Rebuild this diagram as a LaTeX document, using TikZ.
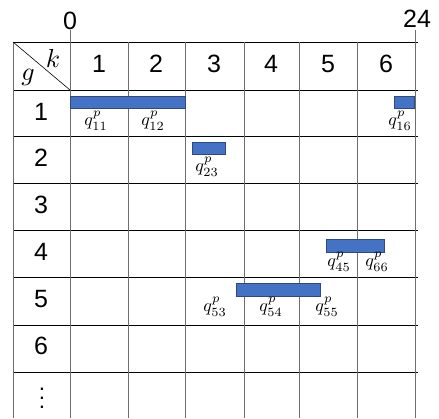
\documentclass[tikz,border=0pt]{standalone}
\usepackage[no-math]{fontspec}
\setmainfont{Liberation Sans}
\usetikzlibrary{positioning}
\definecolor{barblue}{HTML}{4472C4}
\definecolor{baredge}{HTML}{2F4A7A}
\definecolor{gridgrey}{HTML}{6E6E6E}

\begin{document}
\begin{tikzpicture}[
  x=1pt, y=-1pt,
  hdr/.style={inner sep=0pt, font=\fontsize{25}{28}\selectfont},
  axl/.style={inner sep=0pt, font=\fontsize{25}{28}\selectfont},
  qlbl/.style={inner sep=0pt},
  bar/.style={draw=baredge, fill=barblue, line width=0.8pt},
  hline/.style={black, line width=0.9pt},
  vline/.style={gridgrey, line width=0.9pt},
]
\def\q#1{\scalebox{1.8}{$q^{p}_{#1}$}}
\def\hv#1{\scalebox{2.6}{$#1$}}
\useasboundingbox (0,0) rectangle (439,418);

% ---------------- grid ---------------------------------------------
\draw[hline] (13,42) -- (418,42)  (13,90) -- (418,90)  (13,136) -- (418,136)
  (13,183) -- (418,183)  (13,230) -- (418,230)  (13,277) -- (418,277)
  (13,325) -- (418,325)  (13,372) -- (418,372);
\draw[vline] (13,42) -- (13,418)  (70,30) -- (70,418)  (128,42) -- (128,418)
  (185,42) -- (185,418)  (244,42) -- (244,418)  (299,42) -- (299,418)
  (357,42) -- (357,418)  (415,30) -- (415,418);
\draw[black, line width=0.6pt] (13,42) -- (70,90);

% ---------------- time axis ----------------------------------------
\node[axl] (t0) at (70,21) {0};
\node[axl] (t24) at (417,19) {24};

% ---------------- headers ------------------------------------------
\node[inner sep=0pt] (kk) at (53,58) {\hv{k}};
\node[inner sep=0pt] (gg) at (28,77) {\hv{g}};
\node[hdr] (k1) at (99,64) {1};
\node[hdr] (k2) at (156,64) {2};
\node[hdr] (k3) at (214,64) {3};
\node[hdr] (k4) at (271,64) {4};
\node[hdr] (k5) at (328,64) {5};
\node[hdr] (k6) at (386,64) {6};
\node[hdr] (g1) at (41,112) {1};
\node[hdr] (g2) at (41,158) {2};
\node[hdr] (g3) at (41,205) {3};
\node[hdr] (g4) at (41,252) {4};
\node[hdr] (g5) at (41,299) {5};
\node[hdr] (g6) at (41,346) {6};
\node[inner sep=0pt] (gd) at (42,392) {\scalebox{2.25}{$\vdots$}};

% ---------------- bars ---------------------------------------------
\draw[bar] (70,96) rectangle (185,108);
\draw[bar] (394,96) rectangle (414,108);
\draw[bar] (192,142) rectangle (225,154);
\draw[bar] (326,239) rectangle (384,252);
\draw[bar] (236,283) rectangle (320,296);

% ---------------- labels -------------------------------------------
\node[qlbl] (q11) at (96,121) {\q{11}};
\node[qlbl] (q12) at (153,121) {\q{12}};
\node[qlbl] (q16) at (400,121) {\q{16}};
\node[qlbl] (q23) at (207,167) {\q{23}};
\node[qlbl] (q45) at (339,262) {\q{45}};
\node[qlbl] (q66) at (377,262) {\q{66}};
\node[qlbl] (q53) at (215,307) {\q{53}};
\node[qlbl] (q54) at (271,307) {\q{54}};
\node[qlbl] (q55) at (327,307) {\q{55}};

\end{tikzpicture}
\end{document}
